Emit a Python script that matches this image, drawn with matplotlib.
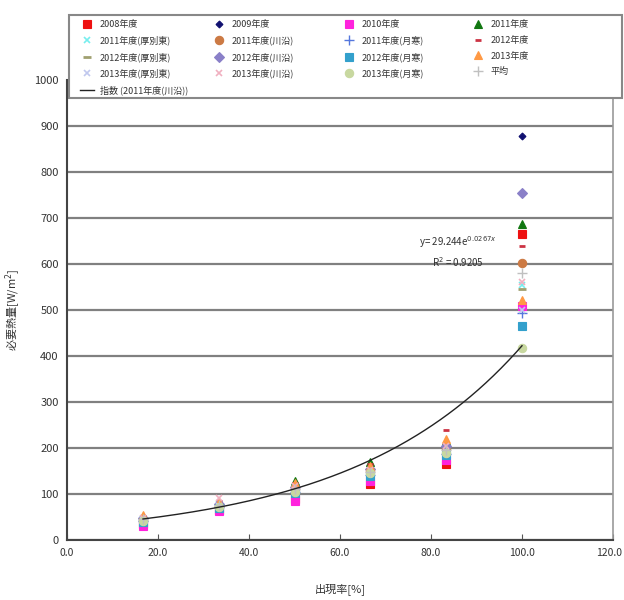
import numpy as np
import matplotlib
matplotlib.use("Agg")
import matplotlib.pyplot as plt
import matplotlib.transforms as mtransforms
from matplotlib.patches import Rectangle

plt.rcParams['font.family'] = ['Noto Sans CJK JP', 'DejaVu Sans']

x_vals = [16.7, 33.3, 50.0, 66.7, 83.3, 100.0]

series_names = [
    "2008年度", "2009年度", "2010年度", "2011年度",
    "2011年度(厚別東)", "2011年度(川沿)", "2011年度(月寒)", "2012年度",
    "2012年度(厚別東)", "2012年度(川沿)", "2012年度(月寒)", "2013年度",
    "2013年度(厚別東)", "2013年度(川沿)", "2013年度(月寒)", "平均",
]

v_2008 = [35, 65, 90, 122, 165, 665]
v_2009 = [45, 75, 110, 150, 200, 879]
v_2010 = [30, 62, 85, 128, 175, 509]
v_2011 = [50, 80, 128, 170, 215, 687]
v_2011_atsubetsu = [45, 78, 112, 148, 195, 554]
v_2011_kawazoe = [44, 75, 110, 150, 198, 603]
v_2011_tsukisamu = [42, 72, 105, 142, 188, 493]
v_2012 = [52, 85, 125, 165, 240, 639]
v_2012_atsubetsu = [46, 76, 112, 150, 200, 545]
v_2012_kawazoe = [47, 78, 115, 155, 205, 754]
v_2012_tsukisamu = [40, 70, 102, 140, 185, 465]
v_2013 = [55, 82, 125, 160, 220, 522]
v_2013_atsubetsu = [43, 74, 108, 145, 192, 500]
v_2013_kawazoe = [48, 92, 118, 152, 205, 560]
v_2013_tsukisamu = [42, 72, 105, 145, 190, 417]
v_avg = [45, 76, 110, 148, 195, 580]

series_values = [
    v_2008, v_2009, v_2010, v_2011,
    v_2011_atsubetsu, v_2011_kawazoe, v_2011_tsukisamu, v_2012,
    v_2012_atsubetsu, v_2012_kawazoe, v_2012_tsukisamu, v_2013,
    v_2013_atsubetsu, v_2013_kawazoe, v_2013_tsukisamu, v_avg,
]

# trendline: exponential fit of 2011年度(川沿)
trend_a = 29.244
trend_b = 0.0267
trend_label = "指数 (2011年度(川沿))"
eq_text = "y= 29.244e$^{0.0267x}$"
r2_text = "R$^2$ = 0.9205"

x_ticks = [0, 20, 40, 60, 80, 100, 120]
y_ticks = [0, 100, 200, 300, 400, 500, 600, 700, 800, 900, 1000]

styles = [
    dict(marker='s', color='#ee1111', ms=6),
    dict(marker='D', color='#101070', ms=3.5),
    dict(marker='s', color='#ff22dd', ms=6),
    dict(marker='^', color='#117711', ms=6),
    dict(marker='x', color='#77eeee', ms=5, mew=1.2),
    dict(marker='o', color='#cc7a44', ms=6),
    dict(marker='+', color='#5577dd', ms=7, mew=1.0),
    dict(marker='_', color='#cc3344', ms=5, mew=2),
    dict(marker='_', color='#a0a070', ms=6, mew=2),
    dict(marker='D', color='#8a80c8', ms=5),
    dict(marker='s', color='#33a0cc', ms=6),
    dict(marker='^', color='#ff9944', ms=6),
    dict(marker='x', color='#c0c8ee', ms=5, mew=1.2),
    dict(marker='x', color='#f0b0c0', ms=5, mew=1.2),
    dict(marker='o', color='#c8d8a0', ms=6),
    dict(marker='+', color='#c0c0c0', ms=7, mew=1.0),
]

W, H = 624, 600
fig = plt.figure(figsize=(W/100, H/100), dpi=100)
ax = fig.add_axes([67/W, 60/H, (613-67)/W, (540-80)/H])

handles = []
for name, vals, st in zip(series_names, series_values, styles):
    st = dict(st)
    mew = st.pop('mew', 0.8)
    h, = ax.plot(x_vals, vals, linestyle='none', marker=st['marker'],
                 color=st['color'], markersize=st['ms'], markeredgewidth=mew,
                 label=name, zorder=3)
    handles.append(h)

xt = np.linspace(x_vals[0], x_vals[-1], 200)
th, = ax.plot(xt, trend_a * np.exp(trend_b * xt), color='#222222', lw=1.0,
              label=trend_label, zorder=4)

ax.set_xlim(0, 120)
ax.set_ylim(0, 1000)
ax.set_xticks(x_ticks)
ax.set_xticklabels([f"{v:.1f}" for v in x_ticks], fontsize=7.5, color='#333333')
ax.set_yticks(y_ticks)
ax.set_yticklabels([str(v) for v in y_ticks], fontsize=8, color='#333333')
ax.tick_params(axis='x', direction='in', length=4, color='#555555', pad=6)
ax.tick_params(axis='y', length=0, pad=6)
ax.grid(axis='y', color='#808080', lw=1.6, zorder=1)
ax.set_axisbelow(True)
for s in ['left', 'bottom']:
    ax.spines[s].set_color('#444444')
    ax.spines[s].set_linewidth(1.5)
ax.spines['right'].set_color('#999999')
ax.spines['right'].set_linewidth(1.2)
ax.spines['top'].set_visible(False)

# keep the last x tick label inside the figure
last = ax.get_xticklabels()[-1]
last.set_horizontalalignment('right')
last.set_transform(last.get_transform() +
                   mtransforms.ScaledTranslation(9/100, 0, fig.dpi_scale_trans))

ax.set_xlabel("出現率[%]", fontsize=8, color='#333333', labelpad=18)
ax.set_ylabel("必要熱量[W/m$^2$]", fontsize=8, color='#333333', labelpad=8)

ax.text(86, 648, eq_text, fontsize=7, color='#333333', ha='center', va='center')
ax.text(86, 604, r2_text, fontsize=7, color='#333333', ha='center', va='center')

# legend frame
box = Rectangle((69/W, 1-98/H), (622-69)/W, (98-15)/H, transform=fig.transFigure,
                facecolor='white', edgecolor='#888888', lw=1.5, zorder=5)
fig.patches.append(box)

columns = [
    [handles[0], handles[4], handles[8], handles[12], th],
    [handles[1], handles[5], handles[9], handles[13]],
    [handles[2], handles[6], handles[10], handles[14]],
    [handles[3], handles[7], handles[11], handles[15]],
]
col_x = [80, 212, 342, 471]
for cx, hs in zip(col_x, columns):
    leg = fig.legend(hs, [h.get_label() for h in hs], loc='upper left',
                     bbox_to_anchor=(cx/W, 1-20/H), frameon=False,
                     fontsize=6.5, borderaxespad=0, borderpad=0,
                     handlelength=1.6, handletextpad=0.6, labelspacing=0.75)
    leg.set_zorder(6)
    for t in leg.get_texts():
        t.set_color('#333333')

fig.savefig("out.png", dpi=100)
